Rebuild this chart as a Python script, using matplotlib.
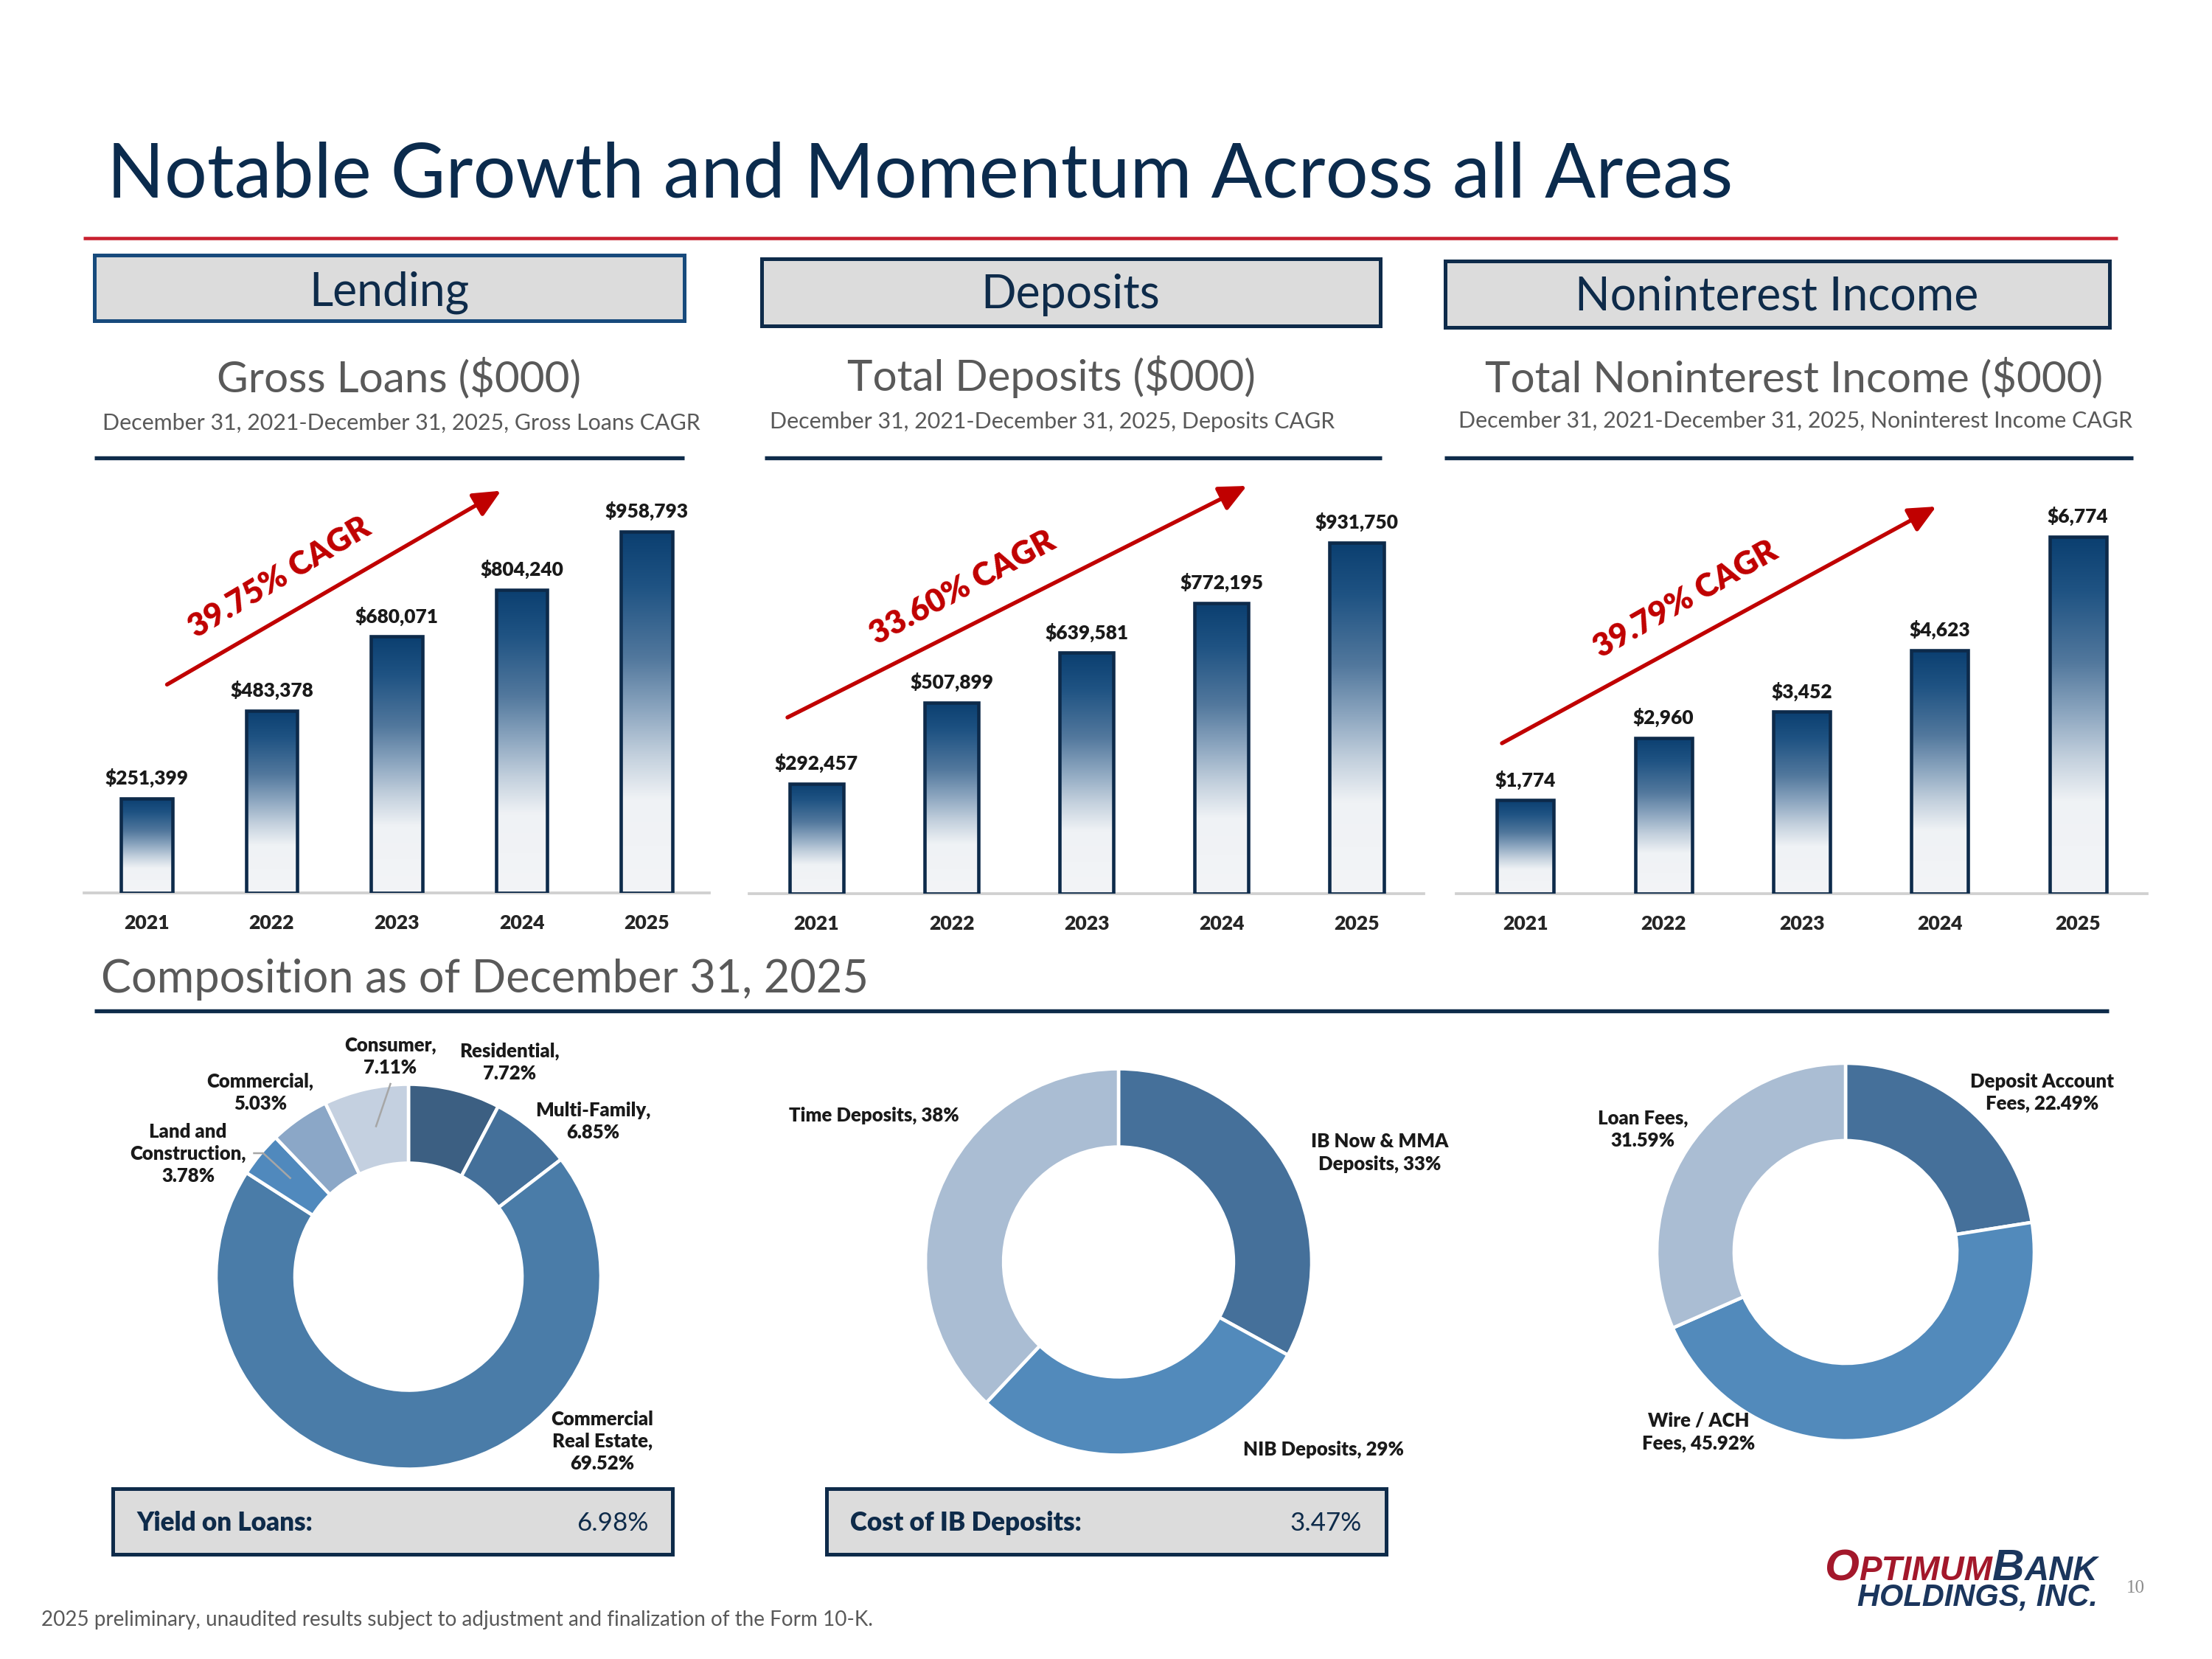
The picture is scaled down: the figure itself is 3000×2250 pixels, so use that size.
import matplotlib
matplotlib.use("Agg")
import matplotlib.pyplot as plt
from matplotlib.patches import Rectangle
from matplotlib.colors import LinearSegmentedColormap
import numpy as np

plt.rcParams['font.family'] = ['Lato', 'DejaVu Sans']

# ---- data ----
years = ['2021', '2022', '2023', '2024', '2025']
gross_loans = [251399, 483378, 680071, 804240, 958793]
total_deposits = [292457, 507899, 639581, 772195, 931750]
nonint_income = [1774, 2960, 3452, 4623, 6774]
cagr_text = ['39.75% CAGR', '33.60% CAGR', '39.79% CAGR']

loan_pcts = [7.72, 6.85, 69.52, 3.78, 5.03, 7.11]
loan_labels = ['Residential,\n7.72%', 'Multi-Family,\n6.85%', 'Commercial\nReal Estate,\n69.52%',
               'Land and\nConstruction,\n3.78%', 'Commercial,\n5.03%', 'Consumer,\n7.11%']
deposit_pcts = [33, 29, 38]
deposit_labels = ['IB Now & MMA\nDeposits, 33%', 'NIB Deposits, 29%', 'Time Deposits, 38%']
fee_pcts = [22.49, 45.92, 31.59]
fee_labels = ['Deposit Account\nFees, 22.49%', 'Wire / ACH\nFees, 45.92%', 'Loan Fees,\n31.59%']

yield_on_loans = '6.98%'
cost_ib_deposits = '3.47%'

# ---- style ----
W, H = 3000, 2250
NAVY = '#0e2b4a'
TITLE = '#0b2b4d'
GRAY = '#595959'
RED = '#c00000'
LINE_RED = '#c8202f'
BOX_FILL = '#dcdcdc'
BAR_EDGE = '#0d2a4a'
HEAVY = 'heavy'

grad_cmap = LinearSegmentedColormap.from_list('bar', [
    (0.0, '#0b3f70'), (0.15, '#1f5383'), (0.35, '#52789d'), (0.5, '#8fa8c1'),
    (0.62, '#c3d0dd'), (0.74, '#eff2f5'), (1.0, '#f3f4f7')])
grad = np.linspace(0, 1, 256).reshape(-1, 1)

fig = plt.figure(figsize=(10, 7.5), dpi=300)
fig.patch.set_facecolor('white')


def fig_rect(x0, y0, x1, y1):
    # pixel box (y down) -> figure fraction
    return [x0 / W, 1 - y1 / H, (x1 - x0) / W, (y1 - y0) / H]


def bar_panel(x0, x1, base, max_px, values, width):
    top = 600
    ax = fig.add_axes(fig_rect(x0, top, x1, base))
    ax.patch.set_visible(False)
    xs = np.arange(len(values))
    bars = ax.bar(xs, values, width=width, facecolor='none', edgecolor=BAR_EDGE,
                  linewidth=1.1, zorder=3)
    for b in bars:
        bx, bw, bh = b.get_x(), b.get_width(), b.get_height()
        im = ax.imshow(grad, cmap=grad_cmap, extent=(bx, bx + bw, 0, bh), origin='upper',
                       aspect='auto', zorder=2, interpolation='bicubic')
        im.set_clip_path(b)
    for xi, v in zip(xs, values):
        ax.annotate(f"${v:,}", (xi, v), xytext=(0, 3.5), textcoords='offset points',
                    ha='center', va='bottom', fontsize=6.3, fontweight=HEAVY, color='#1a1a1a')
    ax.set_xlim(-0.5, 4.5)
    ax.set_ylim(0, max(values) * (base - top) / max_px)
    for s in ['top', 'right', 'left']:
        ax.spines[s].set_visible(False)
    ax.spines['bottom'].set_color('#d0d0d0')
    ax.spines['bottom'].set_linewidth(0.9)
    ax.set_yticks([])
    ax.set_xticks(xs, years)
    ax.tick_params(axis='x', length=0, pad=7, labelsize=6.4, labelcolor='#262626')
    for t in ax.get_xticklabels():
        t.set_fontweight(HEAVY)
    return ax


def donut(cx, cy, r, vals, colors, ring):
    m = 1.02
    ax = fig.add_axes(fig_rect(cx - r * m, cy - r * m, cx + r * m, cy + r * m))
    ax.pie(vals, colors=colors, startangle=90, counterclock=False, radius=1,
           wedgeprops=dict(width=ring, edgecolor='white', linewidth=1.1))
    ax.set_xlim(-m, m)
    ax.set_ylim(-m, m)
    ax.set_aspect('equal')
    return ax


bar_panel(114, 962, 1211, 490, gross_loans, 0.41)
bar_panel(1016, 1931.5, 1212, 476, total_deposits, 0.40)
bar_panel(1975, 2912, 1212, 484, nonint_income, 0.41)

donut(554, 1731.5, 261, loan_pcts,
      ['#3c5f82', '#44709a', '#4a7ca8', '#5089bd', '#8ba7c7', '#c4d0e0'], 0.41)
donut(1517, 1711.5, 262, deposit_pcts, ['#45709a', '#528abb', '#aabdd3'], 0.405)
donut(2503, 1698, 256, fee_pcts, ['#45709a', '#528abb', '#aabdd3'], 0.41)

# ---- overlay: text, boxes, rules, arrows ----
ov = fig.add_axes([0, 0, 1, 1], zorder=10)
ov.set_xlim(0, W)
ov.set_ylim(H, 0)
ov.axis('off')

ov.text(145, 268, 'Notable Growth and Momentum Across all Areas', fontsize=24.5,
        color=TITLE, ha='left', va='baseline')
ov.plot([113, 2872], [323, 323], color=LINE_RED, lw=1.1, solid_capstyle='butt')

sections = [
    ((127.6, 346, 928, 435), 'Lending', 528, 415, '#174a7c'),
    ((1033, 351, 1871.5, 441.6), 'Deposits', 1452, 418, NAVY),
    ((1960, 353.6, 2860.7, 443.6), 'Noninterest Income', 2410, 420.6, NAVY),
]
for (x0, y0, x1, y1), name, tx, ty, ec in sections:
    ov.add_patch(Rectangle((x0, y0), x1 - x0, y1 - y0, facecolor=BOX_FILL, edgecolor=ec, lw=1.2))
    ov.text(tx, ty, name, fontsize=15, color=NAVY, ha='center', va='baseline')

subtitles = [
    ('Gross Loans ($000)', 541, 531, 'December 31, 2021-December 31, 2025, Gross Loans CAGR', 544, 582.6,
     (127.6, 928)),
    ('Total Deposits ($000)', 1425.5, 529.7, 'December 31, 2021-December 31, 2025, Deposits CAGR', 1427, 580.7,
     (1037, 1874)),
    ('Total Noninterest Income ($000)', 2433.5, 531,
     'December 31, 2021-December 31, 2025, Noninterest Income CAGR', 2434.6, 580, (1958.7, 2892.8)),
]
for head, hx, hy, sub, sx, sy, (rx0, rx1) in subtitles:
    ov.text(hx, hy, head, fontsize=14, color=GRAY, ha='center', va='baseline')
    ov.text(sx, sy, sub, fontsize=7.3, color=GRAY, ha='center', va='baseline')
    ov.plot([rx0, rx1], [621, 621], color=NAVY, lw=1.3, solid_capstyle='butt')

arrows = [((226.5, 928.4), (679.5, 665.6), (379.6, 783), 30.8),
          ((1068, 973), (1691, 659), (1306, 797.6), 28.4),
          ((2037, 1008), (2626, 687), (2286, 813), 29.5)]
for (start, tip, tpos, ang), txt in zip(arrows, cagr_text):
    ov.annotate('', xy=tip, xytext=start,
                arrowprops=dict(arrowstyle='-|>,head_length=0.75,head_width=0.35', color=RED,
                                lw=1.3, mutation_scale=10, shrinkA=0, shrinkB=0))
    ov.text(tpos[0], tpos[1], txt, fontsize=10.5, fontweight=HEAVY, color=RED, rotation=ang,
            rotation_mode='anchor', ha='center', va='center')

ov.text(137, 1345.7, 'Composition as of December 31, 2025', fontsize=14.7, color=GRAY,
        ha='left', va='baseline')
ov.plot([127.6, 2860], [1371, 1371], color=NAVY, lw=1.3, solid_capstyle='butt')

label_kw = dict(fontsize=6.2, fontweight=HEAVY, color='#1a1a1a', ha='center', va='center',
                linespacing=1.3)
loan_pos = [(691, 1441), (804, 1521), (816.6, 1955), (255, 1565), (353, 1481.5), (529.5, 1433)]
for (lx, ly), lab in zip(loan_pos, loan_labels):
    ov.text(lx, ly, lab, **label_kw)
dep_pos = [(1871.5, 1563.6), (1795, 1966), (1185, 1513)]
for (lx, ly), lab in zip(dep_pos, deposit_labels):
    ov.text(lx, ly, lab, **label_kw)
fee_pos = [(2770, 1482), (2303.7, 1942.6), (2228, 1532)]
for (lx, ly), lab in zip(fee_pos, fee_labels):
    ov.text(lx, ly, lab, **label_kw)

# leader lines for the small slices
ov.plot([529.5, 510], [1470, 1527.5], color='#a6a6a6', lw=0.6)
ov.plot([344.5, 357, 393.6], [1564, 1564, 1597.7], color='#a6a6a6', lw=0.6)

boxes = [((153, 2019, 912, 2108), 'Yield on Loans:', yield_on_loans, 185, 879),
         ((1121, 2019, 1880, 2108), 'Cost of IB Deposits:', cost_ib_deposits, 1153, 1847)]
for (x0, y0, x1, y1), name, val, lx, rx in boxes:
    ov.add_patch(Rectangle((x0, y0), x1 - x0, y1 - y0, facecolor=BOX_FILL, edgecolor=NAVY, lw=1.2))
    ov.text(lx, 2076, name, fontsize=8.4, fontweight=HEAVY, color=NAVY, ha='left', va='baseline')
    ov.text(rx, 2076, val, fontsize=8.4, color=NAVY, ha='right', va='baseline')

ov.text(56, 2205, '2025 preliminary, unaudited results subject to adjustment and finalization of the Form 10-K.',
        fontsize=6.7, color=GRAY, ha='left', va='baseline')

# ---- logo ----
renderer = fig.canvas.get_renderer()
logo_font = ['Liberation Sans', 'DejaVu Sans']
pieces = [('O', 14.5, '#a3182b'), ('PTIMUM', 11, '#a3182b'), ('B', 14.5, '#1b365d'), ('ANK', 11, '#1b365d')]
arts = []
for s, fs, c in pieces:
    t = ov.text(0, 2143, s, fontsize=fs, color=c, fontweight='bold', fontstyle='italic',
                family=logo_font, ha='left', va='baseline')
    arts.append(t)
widths = [a.get_window_extent(renderer).width for a in arts]
x = 2845 - sum(widths)
for a, w in zip(arts, widths):
    a.set_x(x)
    x += w
ov.text(2845, 2178, 'HOLDINGS, INC.', fontsize=10, color='#1b365d', fontweight='bold',
        fontstyle='italic', family=logo_font, ha='right', va='baseline')
ov.text(2896, 2160, '10', fontsize=6, color='#8c8c8c', family=['Liberation Serif', 'DejaVu Serif'],
        ha='center', va='baseline')

fig.savefig('out.png', dpi=300, facecolor='white')
